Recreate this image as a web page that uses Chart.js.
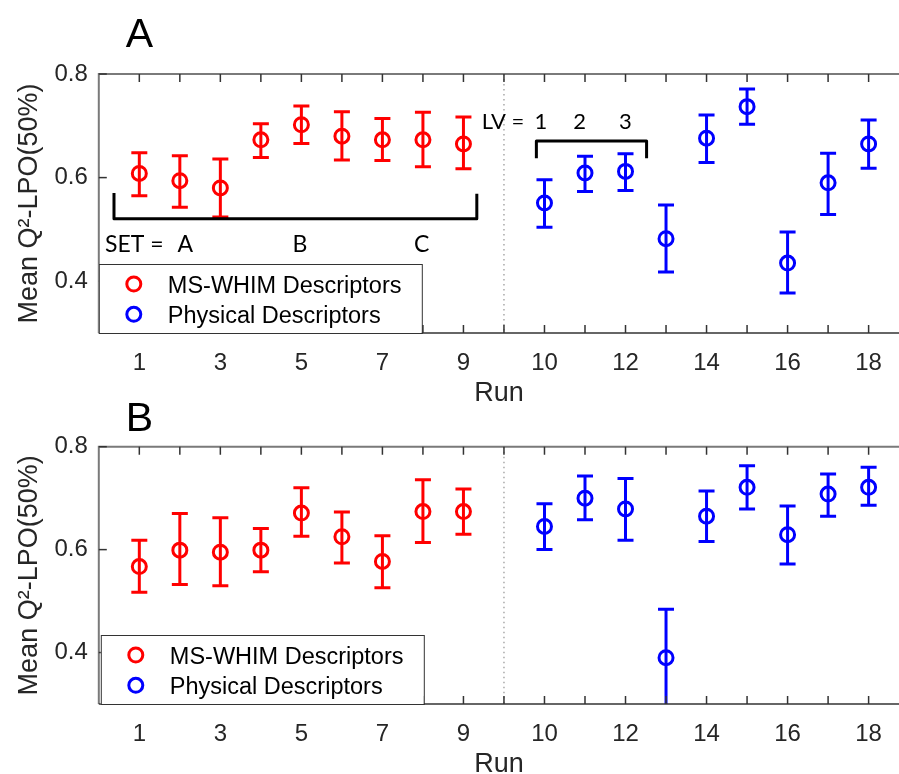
<!DOCTYPE html>
<html><head><meta charset="utf-8">
<script src="https://cdn.jsdelivr.net/npm/chart.js@4.4.1/dist/chart.umd.min.js"></script>
<style>
html,body{margin:0;padding:0;background:#fff;overflow:hidden}
#wrap{position:relative;width:899px;height:774px;overflow:hidden;background:#fff}
canvas{position:absolute;left:0}
#c1{top:0;width:899px;height:410px}
#c2{top:390px;width:899px;height:400px}
</style></head><body>
<div id="wrap"><canvas id="c1" width="899" height="410"></canvas><canvas id="c2" width="899" height="400"></canvas></div>
<script>
// ---------------- data ----------------
const msRuns   = [1, 2, 3, 4, 5, 6, 7, 8, 9];
const physRuns = [10, 11, 12, 13, 14, 15, 16, 17, 18];
const labeledRuns = [1, 3, 5, 7, 9, 10, 12, 14, 16, 18];
const yTickValues = [0.4, 0.6, 0.8];
const seriesNames = ['MS-WHIM Descriptors', 'Physical Descriptors'];

// Panel A
const aMsMean   = [0.608, 0.594, 0.580, 0.673, 0.702, 0.680, 0.673, 0.673, 0.665];
const aMsLow    = [0.565, 0.543, 0.524, 0.639, 0.666, 0.634, 0.633, 0.621, 0.617];
const aMsHigh   = [0.648, 0.642, 0.636, 0.704, 0.738, 0.727, 0.714, 0.726, 0.717];
const aPhysMean = [0.551, 0.609, 0.612, 0.482, 0.676, 0.737, 0.435, 0.590, 0.665];
const aPhysLow  = [0.504, 0.573, 0.575, 0.418, 0.629, 0.703, 0.377, 0.529, 0.618];
const aPhysHigh = [0.596, 0.641, 0.646, 0.547, 0.721, 0.771, 0.495, 0.647, 0.711];

// Panel B
const bMsMean   = [0.567, 0.599, 0.595, 0.599, 0.671, 0.625, 0.577, 0.674, 0.674];
const bMsLow    = [0.517, 0.532, 0.530, 0.557, 0.626, 0.574, 0.526, 0.614, 0.630];
const bMsHigh   = [0.618, 0.670, 0.662, 0.641, 0.720, 0.673, 0.627, 0.736, 0.718];
const bPhysMean = [0.645, 0.700, 0.679, 0.390, 0.665, 0.721, 0.629, 0.708, 0.721];
const bPhysLow  = [0.600, 0.658, 0.618, 0.295, 0.616, 0.679, 0.572, 0.665, 0.686];
const bPhysHigh = [0.689, 0.743, 0.738, 0.484, 0.714, 0.763, 0.685, 0.747, 0.760];

// ---------------- helpers ----------------
const FONT = "'Liberation Sans', Arial, Helvetica, sans-serif";
const ANNO = "Lato, 'Open Sans', sans-serif";
const AX = '#262626';
const RED = '#ff0000', BLUE = '#0000ff';
const SEP = 10; // axis position of the dotted separator (gap between run 9 and 10)
function pos(run) { return run >= SEP ? run + 1 : run; }
function runAt(p) { if (p === SEP || p < 1) return null; return p > SEP ? p - 1 : p; }
function labelFor(p) { const r = runAt(p); return (r !== null && labeledRuns.includes(r)) ? String(r) : ''; }

function makeDs(label, color, runs, mean, low, high) {
  return {
    label, data: runs.map((r, i) => ({ x: pos(r), y: mean[i] })),
    errLow: low, errHigh: high,
    borderColor: color, backgroundColor: 'rgba(0,0,0,0)',
    pointStyle: 'circle', pointRadius: 7, pointBorderWidth: 3, pointHoverRadius: 7,
    showLine: false
  };
}

const framePlugin = {
  id: 'frame',
  beforeDatasetsDraw(chart) {
    const { ctx, chartArea: ca, scales: { x, y } } = chart;
    ctx.save();
    // dotted separator
    const sx = x.getPixelForValue(SEP);
    ctx.strokeStyle = '#a8a8a8'; ctx.lineWidth = 1.5; ctx.setLineDash([1.5, 3.5]);
    ctx.beginPath(); ctx.moveTo(sx, ca.top); ctx.lineTo(sx, ca.bottom); ctx.stroke();
    ctx.setLineDash([]);
    // error bars
    ctx.beginPath(); ctx.rect(ca.left, ca.top, ca.right - ca.left, ca.bottom - ca.top); ctx.clip();
    chart.data.datasets.forEach(ds => {
      ctx.strokeStyle = ds.borderColor; ctx.lineWidth = 3; ctx.lineCap = 'butt';
      ds.data.forEach((pt, i) => {
        const px = x.getPixelForValue(pt.x);
        const yl = y.getPixelForValue(ds.errLow[i]);
        const yh = y.getPixelForValue(ds.errHigh[i]);
        ctx.beginPath();
        ctx.moveTo(px, yl); ctx.lineTo(px, yh);
        ctx.moveTo(px - 8, yl); ctx.lineTo(px + 8, yl);
        ctx.moveTo(px - 8, yh); ctx.lineTo(px + 8, yh);
        ctx.stroke();
      });
    });
    ctx.restore();
  },
  afterDatasetsDraw(chart, args, opts) {
    const { ctx, chartArea: ca, scales: { x, y } } = chart;
    ctx.save();
    // box
    ctx.strokeStyle = '#7a7a7a'; ctx.lineWidth = 2;
    ctx.beginPath(); ctx.moveTo(ca.left, ca.bottom); ctx.lineTo(ca.left, ca.top); ctx.lineTo(ca.right, ca.top); ctx.stroke();
    ctx.strokeStyle = '#333'; ctx.lineWidth = 1.5;
    ctx.beginPath(); ctx.moveTo(ca.left, ca.bottom); ctx.lineTo(ca.right, ca.bottom); ctx.stroke();
    // ticks
    ctx.lineWidth = 1.5; ctx.strokeStyle = '#333';
    x.ticks.forEach(t => {
      if (t.value < 1) return;
      const px = x.getPixelForValue(t.value);
      ctx.beginPath();
      ctx.moveTo(px, ca.bottom); ctx.lineTo(px, ca.bottom - 8);
      ctx.moveTo(px, ca.top); ctx.lineTo(px, ca.top + 8);
      ctx.stroke();
    });
    y.ticks.forEach(t => {
      const py = y.getPixelForValue(t.value);
      ctx.beginPath(); ctx.moveTo(ca.left, py); ctx.lineTo(ca.left + 8, py); ctx.stroke();
    });
    // legend
    const lx = ca.left + opts.legendDx, lw = 323, lh = 69, ly = ca.bottom - lh;
    ctx.fillStyle = '#fff'; ctx.fillRect(lx, ly, lw, lh);
    ctx.strokeStyle = '#333'; ctx.lineWidth = 1;
    ctx.strokeRect(lx + 0.5, ly + 0.5, lw, lh);
    chart.data.datasets.forEach((ds, i) => {
      const my = ly + 20 + i * 30.3;
      ctx.strokeStyle = ds.borderColor; ctx.lineWidth = 3;
      ctx.beginPath(); ctx.arc(lx + 35, my, 7, 0, Math.PI * 2); ctx.stroke();
      ctx.fillStyle = '#000'; ctx.font = '23.5px ' + FONT; ctx.textAlign = 'left'; ctx.textBaseline = 'alphabetic';
      ctx.fillText(ds.label, lx + 69, my + 8.5);
    });
    // panel letter
    ctx.fillStyle = '#000'; ctx.font = '41px ' + FONT; ctx.textAlign = 'center'; ctx.textBaseline = 'alphabetic';
    ctx.fillText(opts.letter, x.getPixelForValue(1), ca.top - opts.letterRise);
    // annotations
    if (opts.annotate) {
      ctx.strokeStyle = '#000'; ctx.lineWidth = 3; ctx.lineJoin = 'round';
      ctx.beginPath();
      ctx.moveTo(x.getPixelForValue(0.375), y.getPixelForValue(0.5705));
      ctx.lineTo(x.getPixelForValue(0.375), y.getPixelForValue(0.5204));
      ctx.lineTo(x.getPixelForValue(9.33), y.getPixelForValue(0.5204));
      ctx.lineTo(x.getPixelForValue(9.33), y.getPixelForValue(0.5686));
      ctx.stroke();
      ctx.beginPath();
      ctx.moveTo(x.getPixelForValue(10.80), y.getPixelForValue(0.6374));
      ctx.lineTo(x.getPixelForValue(10.80), y.getPixelForValue(0.6708));
      ctx.lineTo(x.getPixelForValue(13.52), y.getPixelForValue(0.6708));
      ctx.lineTo(x.getPixelForValue(13.52), y.getPixelForValue(0.6374));
      ctx.stroke();
      ctx.fillStyle = '#000'; ctx.textBaseline = 'alphabetic';
      ctx.font = '23px ' + ANNO;
      const by = y.getPixelForValue(0.4573);
      ctx.textAlign = 'left'; ctx.fillText('SET =', x.getPixelForValue(0.153), by);
      ctx.textAlign = 'center';
      ctx.fillText('A', x.getPixelForValue(2.135), by);
      ctx.fillText('B', x.getPixelForValue(4.965), by);
      ctx.fillText('C', x.getPixelForValue(7.97), by);
      ctx.font = '22px ' + ANNO;
      const ly2 = y.getPixelForValue(0.6933);
      ctx.textAlign = 'left'; ctx.fillText('LV =', x.getPixelForValue(9.45), ly2);
      ctx.textAlign = 'center';
      ctx.fillText('1', x.getPixelForValue(10.91), ly2);
      ctx.fillText('2', x.getPixelForValue(11.87), ly2);
      ctx.fillText('3', x.getPixelForValue(12.998), ly2);
    }
    ctx.restore();
  }
};

function makeChart(id, cfg) {
  return new Chart(document.getElementById(id), {
    type: 'scatter',
    data: { datasets: [
      makeDs(seriesNames[0], RED, msRuns, cfg.msMean, cfg.msLow, cfg.msHigh),
      makeDs(seriesNames[1], BLUE, physRuns, cfg.physMean, cfg.physLow, cfg.physHigh)
    ] },
    options: {
      responsive: false, animation: false, devicePixelRatio: 1,
      layout: { autoPadding: false, padding: { top: cfg.padTop, left: 0, right: 0, bottom: 0 } },
      plugins: {
        legend: { display: false }, tooltip: { enabled: false },
        frame: { letter: cfg.letter, letterRise: cfg.letterRise, legendDx: cfg.legendDx, annotate: cfg.annotate }
      },
      scales: {
        x: {
          type: 'linear', min: 0, max: 19.75,
          afterBuildTicks: s => { s.ticks = Array.from({ length: 20 }, (_, i) => ({ value: i })); },
          afterFit: s => { s.height = cfg.xAxisH; s.paddingLeft = 0; s.paddingRight = 0; },
          ticks: { autoSkip: false, maxRotation: 0, minRotation: 0, padding: 15.6, color: AX,
                   font: { family: FONT, size: 24 }, callback: v => labelFor(v) },
          grid: { display: false, drawTicks: false }, border: { display: false },
          title: { display: true, text: 'Run', color: AX, font: { family: FONT, size: 27, lineHeight: 1 },
                   padding: { top: 0, bottom: cfg.runPad } }
        },
        y: {
          type: 'linear', min: 0.3, max: 0.8,
          afterBuildTicks: s => { s.ticks = yTickValues.map(v => ({ value: v })); },
          afterFit: s => { s.width = 98.8; s.paddingTop = 0; s.paddingBottom = 0; },
          ticks: { padding: 11, color: AX, font: { family: FONT, size: 24 }, callback: v => v.toFixed(1) },
          grid: { display: false, drawTicks: false }, border: { display: false },
          title: { display: true, text: 'Mean Q²-LPO(50%)', color: AX, font: { family: FONT, size: 27, lineHeight: 1 },
                   padding: { top: 16.5, bottom: 0 } }
        }
      }
    },
    plugins: [framePlugin]
  });
}

makeChart('c1', { padTop: 74, xAxisH: 77, runPad: 2.5, letter: 'A', letterRise: 27, legendDx: 0, annotate: true,
  msMean: aMsMean, msLow: aMsLow, msHigh: aMsHigh, physMean: aPhysMean, physLow: aPhysLow, physHigh: aPhysHigh });
makeChart('c2', { padTop: 56.7, xAxisH: 86, runPad: 11.5, letter: 'B', letterRise: 16, legendDx: 2, annotate: false,
  msMean: bMsMean, msLow: bMsLow, msHigh: bMsHigh, physMean: bPhysMean, physLow: bPhysLow, physHigh: bPhysHigh });
</script>
</body></html>
